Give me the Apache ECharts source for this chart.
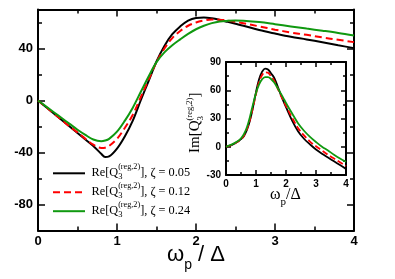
<!DOCTYPE html>
<html><head><meta charset="utf-8">
<script src="https://cdn.jsdelivr.net/npm/echarts@6/dist/echarts.min.js"></script>
<style>html,body{margin:0;padding:0;background:#fff}#c{width:395px;height:279px}</style>
</head><body><div id="c"></div>
<script>
// ---- main panel data: Re[Q3^(reg,2)] vs omega_p/Delta ----
const mainX = [0,0.1,0.2,0.3,0.4,0.5,0.6,0.7,0.8,0.85,0.9,1.0,1.1,1.2,1.3,1.4,1.5,1.6,1.7,1.8,1.9,2.0,2.1,2.2,2.3,2.4,2.5,2.6,2.8,3.0,3.2,3.4,3.6,3.8,4.0];
const reZ005 = [0,-5,-10,-15,-20,-25,-30,-35,-41,-43.5,-43,-37,-27.5,-15.5,0,15,30,42,51,57,61.5,63.5,63.8,63.2,62,60.5,59,57.5,54.2,51.5,49,47,44.8,42.5,40.3];
const reZ012 = [0,-5,-10,-15,-20,-24.5,-29.5,-34,-36.5,-36.3,-35,-29.5,-21,-11,2.5,16,29.5,40,48,53.5,57.5,60,61.5,62.3,62.2,61.5,60.6,59.5,57,54.5,52.3,50.5,48.5,46.7,44.9];
const reZ024 = [0,-4.5,-9,-13.5,-18,-22.5,-26.5,-30,-31.3,-30.8,-29.5,-24,-15.5,-5.5,6.5,18.5,29.5,37,42.5,47,51.2,54.8,57.5,59.5,60.8,61.3,61.5,61.3,60.3,58.7,57,55.3,53.7,52,50];
// ---- inset data: Im[Q3^(reg,2)] ----
const insetX = [0,0.2,0.4,0.5,0.6,0.7,0.8,0.9,1.0,1.1,1.2,1.3,1.4,1.5,1.6,1.7,1.8,1.9,2.0,2.2,2.4,2.6,2.8,3.0,3.2,3.4,3.6,3.8,4.0];
const imZ005 = [0,2,5.5,8,11.5,18,28,42,58,71.5,79.5,83,82,78,73.5,66,57.5,49.5,42,28,16.5,8.5,2.5,-3,-7.5,-11.5,-15.5,-19.5,-23.5];
const imZ012 = [0,2,5.5,8,12,19,29,42,56,68.5,76,79,78.5,75,70.5,63.5,56.5,50,43.5,31,20,12,5.5,0.5,-4,-8.5,-12.5,-16.5,-20.5];
const imZ024 = [0,2.5,6,9,13.5,21,32,45,57,66,71.5,74,74,72,68.5,63.5,58,52.5,46.5,35.5,25,17,10.5,5,0,-4,-8.5,-12.5,-16];
// ---- ticks ----
const mainXMajor = [0,1,2,3,4], mainXMinor = [0.5,1.5,2.5,3.5];
const mainYMajor = [-80,-40,0,40], mainYMinor = [-60,-20,20,60];
const insXMajor = [0,1,2,3,4], insXMinor = [0.5,1.5,2.5,3.5];
const insYMajor = [-30,0,30,60,90], insYMinor = [-15,15,45,75];
const zetas = ['0.05','0.12','0.24'];
const colors = ['#000000','#ff0000','#109910'];

const pairs = (xs, ys) => xs.map((x,i)=>[x, ys[i]]);
const SANS = '"Liberation Sans", Arial, sans-serif';
const SERIF = '"Liberation Serif", "Times New Roman", serif';

function axis(kind, grid, pos, min, max, ticks, len, labels, lblSize, lineShow, lineW) {
  return {
    type:'value', gridIndex:grid, position:pos, min:min, max:max,
    axisLine:{show:lineShow, onZero:false, lineStyle:{color:'#000', width:lineW}},
    axisTick:{show:true, inside:true, length:len, customValues:ticks, lineStyle:{color:'#000', width:1.5}},
    axisLabel: labels ? {show:true, customValues:labels, color:'#000', fontFamily:SANS, fontWeight:'bold', fontSize:lblSize, margin: kind==='x'?4:5} : {show:false},
    splitLine:{show:false}
  };
}
const xAxes = [
  axis('x',0,'bottom',0,4,mainXMajor,7,mainXMajor,13,true,2),
  axis('x',0,'bottom',0,4,mainXMinor,4,null,0,false,2),
  axis('x',0,'top',0,4,mainXMajor,7,null,0,true,2),
  axis('x',0,'top',0,4,mainXMinor,4,null,0,false,2),
  axis('x',1,'bottom',0,4,insXMajor,5,insXMajor,10,true,2),
  axis('x',1,'bottom',0,4,insXMinor,3,null,0,false,2),
  axis('x',1,'top',0,4,insXMajor,5,null,0,true,2),
  axis('x',1,'top',0,4,insXMinor,3,null,0,false,2)
];
const yAxes = [
  axis('y',0,'left',-100,70,mainYMajor,7,mainYMajor,13,true,2),
  axis('y',0,'left',-100,70,mainYMinor,4,null,0,false,2),
  axis('y',0,'right',-100,70,mainYMajor,7,null,0,true,2),
  axis('y',0,'right',-100,70,mainYMinor,4,null,0,false,2),
  axis('y',1,'left',-30,90,insYMajor,5,insYMajor,10,true,2),
  axis('y',1,'left',-30,90,insYMinor,3,null,0,false,2),
  axis('y',1,'right',-30,90,insYMajor,5,null,0,true,2),
  axis('y',1,'right',-30,90,insYMinor,3,null,0,false,2)
];

const mainSets = [reZ005, reZ012, reZ024], insSets = [imZ005, imZ012, imZ024];
const series = [];
mainSets.forEach((ys,i)=>series.push({
  type:'line', name:'Re ζ='+zetas[i], xAxisIndex:0, yAxisIndex:0, data:pairs(mainX, ys),
  showSymbol:false, smooth:0.35, silent:true,
  lineStyle:{color:colors[i], width:2, type: i===1?[7,4]:'solid'}
}));
insSets.forEach((ys,i)=>series.push({
  type:'line', name:'Im ζ='+zetas[i], xAxisIndex:4, yAxisIndex:4, data:pairs(insetX, ys),
  showSymbol:false, smooth:0.35, silent:true,
  lineStyle:{color:colors[i], width:1.8, type: i===1?[6,3]:'solid'}
}));

// ---- rich text helper ----
const ctx = document.createElement('canvas').getContext('2d');
function tw(t, s, fam){ ctx.font = s+'px '+fam; return ctx.measureText(t).width; }
function pieces(x0, base, parts, fam) {
  const els = []; let x = x0, stackStart = x0, stackW = 0;
  parts.forEach(p => {
    const w = tw(p.t, p.s, fam);
    let start;
    if (p.same) { start = stackStart; stackW = Math.max(stackW, w); x = stackStart + stackW; }
    else { start = x; stackStart = x; stackW = w; x = x + w; }
    els.push({type:'text', x:start, y: base + (p.dy||0) - 0.34*p.s,
      style:{text:p.t, fontFamily:fam, fontSize:p.s, fill:'#000', align:'left', verticalAlign:'middle'}});
  });
  return els;
}

const graphics = [];
// legend
const ly = [173.3, 192.3, 211.2];
ly.forEach((y,i)=>{
  graphics.push({type:'line', shape:{x1:53, y1:y, x2:85, y2:y},
    style:{stroke:colors[i], lineWidth:2, lineDash: i===1?[7,4]:null}});
  pieces(91.5, y+3.5, [
    {t:'Re[Q', s:12.3},
    {t:'3', s:8.5, dy:3},
    {t:'(reg,2)', s:8.2, dy:-6.7, same:true},
    {t:'], ζ = '+zetas[i], s:12.3}
  ], SERIF).forEach(e=>graphics.push(e));
});
// main x title
pieces(167, 262.7, [
  {t:'ω', s:22}, {t:'p', s:14, dy:7}, {t:' / Δ', s:22}
], SANS).forEach(e=>graphics.push(e));
// inset x title
pieces(270, 200, [
  {t:'ω', s:16}, {t:'p', s:11, dy:6}, {t:'/Δ', s:16}
], SERIF).forEach(e=>graphics.push(e));
// inset y title (rotated)
graphics.push({type:'group', x:200, y:153, rotation:Math.PI/2,
  children: pieces(0, 0, [
    {t:'Im[Q', s:15}, {t:'3', s:9, dy:3.5}, {t:'(reg,2)', s:8.5, dy:-7.5, same:true}, {t:']', s:15}
  ], SERIF)
});

const chart = echarts.init(document.getElementById('c'), null, {renderer:'canvas'});
chart.setOption({
  animation:false,
  backgroundColor:'#fff',
  grid:[
    {left:38, top:9.5, width:316, height:221},
    {left:226, top:62, width:120, height:113}
  ],
  xAxis:xAxes, yAxis:yAxes, series:series, graphic:graphics
});
</script></body></html>
